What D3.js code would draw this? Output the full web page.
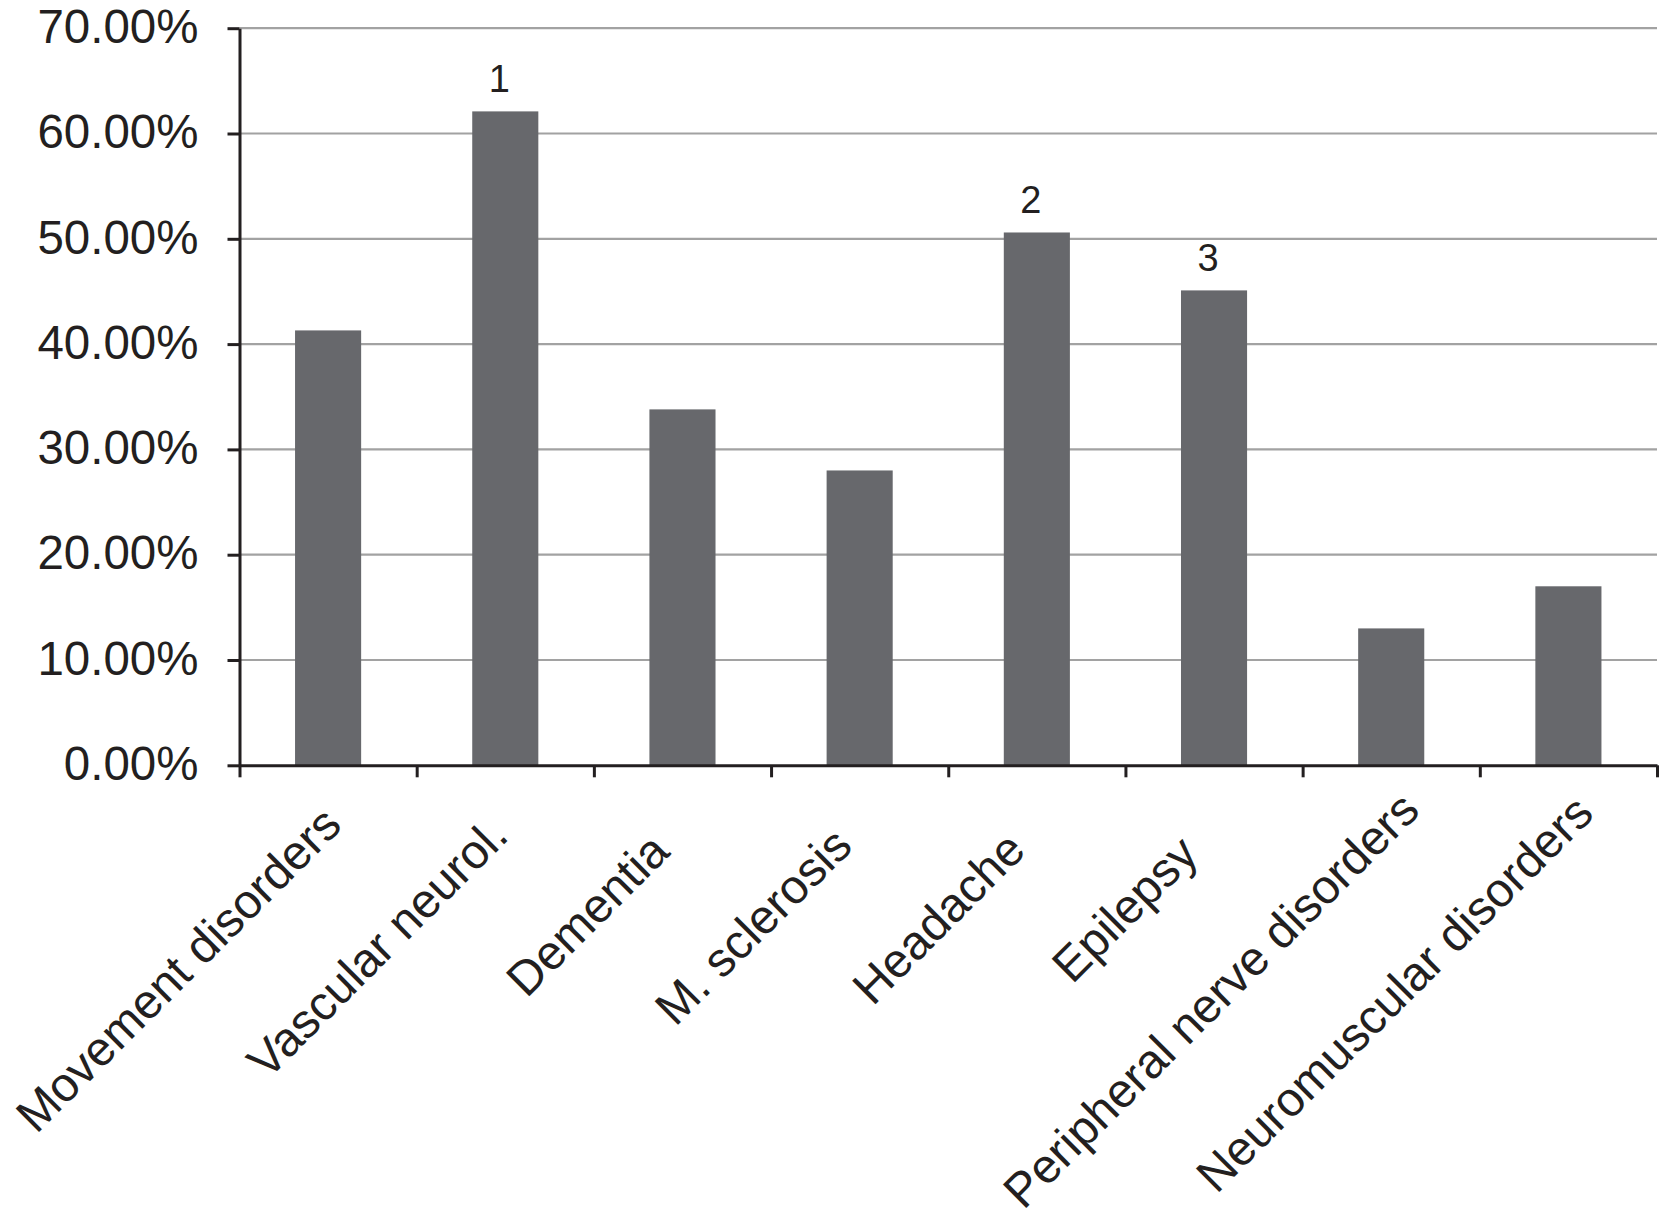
<!DOCTYPE html>
<html>
<head>
<meta charset="utf-8">
<script src="https://cdnjs.cloudflare.com/ajax/libs/d3/7.8.5/d3.min.js"></script>
<style>
  body { margin: 0; background: #fff; }
  text { font-family: "Liberation Sans", Arial, Helvetica, sans-serif; fill: #231f20; }
</style>
</head>
<body>
<div id="chart"></div>
<script>
// chart data
var categories = ["Movement disorders", "Vascular neurol.", "Dementia", "M. sclerosis",
    "Headache", "Epilepsy", "Peripheral nerve disorders", "Neuromuscular disorders"];
var shares = [0.413, 0.621, 0.338, 0.280, 0.506, 0.451, 0.130, 0.170];
var ranks = ["", "1", "", "", "2", "3", "", ""];
var yTicks = [0, 0.1, 0.2, 0.3, 0.4, 0.5, 0.6, 0.7];

var W = 1659, H = 1223;
var plotLeft = 239.5, plotRight = 1657, plotTop = 28.2, plotBottom = 765.3;

var svg = d3.select("#chart")
    .append("svg")
    .attr("width", W)
    .attr("height", H);

svg.append("rect").attr("width", W).attr("height", H).attr("fill", "#fff");

var y = d3.scaleLinear()
    .domain([0, 0.7])
    .range([plotBottom, plotTop]);

var x = d3.scaleBand()
    .domain(categories)
    .range([plotLeft, plotRight])
    .paddingInner(0.627)
    .paddingOuter(0.3135);

// tick marks sit between the categories
var xEdges = d3.scaleLinear()
    .domain([0, categories.length])
    .range([plotLeft, plotRight]);

// gridlines
svg.append("g")
    .selectAll("line")
    .data(yTicks.slice(1))
    .enter()
    .append("line")
    .attr("x1", plotLeft)
    .attr("x2", plotRight)
    .attr("y1", function (d) { return y(d); })
    .attr("y2", function (d) { return y(d); })
    .attr("stroke", "#a2a2a2")
    .attr("stroke-width", 2.2);

// bars
svg.append("g")
    .selectAll("rect")
    .data(shares)
    .enter()
    .append("rect")
    .attr("x", function (d, i) { return x(categories[i]); })
    .attr("width", x.bandwidth())
    .attr("y", function (d) { return y(d); })
    .attr("height", function (d) { return y(0) - y(d); })
    .attr("fill", "#67686c");

// rank numbers over the top three
svg.append("g")
    .selectAll("text")
    .data(shares)
    .enter()
    .append("text")
    .attr("x", function (d, i) { return x(categories[i]) + x.bandwidth() / 2 - 6; })
    .attr("y", function (d) { return y(d) - 19; })
    .attr("text-anchor", "middle")
    .style("font-size", "38px")
    .text(function (d, i) { return ranks[i]; });

// Y axis
var yAxis = svg.append("g")
    .attr("transform", "translate(" + plotLeft + ",0)")
    .call(d3.axisLeft(y)
        .tickValues(yTicks)
        .tickFormat(d3.format(".2%"))
        .tickSize(12)
        .tickSizeOuter(0)
        .tickPadding(29));
yAxis.select(".domain").attr("stroke", "#231f20").attr("stroke-width", 3);
yAxis.selectAll(".tick line").attr("stroke", "#231f20").attr("stroke-width", 3);
yAxis.selectAll(".tick text")
    .style("font-size", "47.5px")
    .attr("font-family", null)
    .attr("fill", "#231f20")
    .attr("dy", "0.3em");

// X axis
var xAxis = svg.append("g")
    .attr("transform", "translate(0," + plotBottom + ")")
    .call(d3.axisBottom(xEdges)
        .tickValues(d3.range(categories.length + 1))
        .tickFormat("")
        .tickSize(12)
        .tickSizeOuter(0));
xAxis.select(".domain").attr("stroke", "#231f20").attr("stroke-width", 3);
xAxis.selectAll(".tick line").attr("stroke", "#231f20").attr("stroke-width", 3);

// category labels, rotated
svg.append("g")
    .selectAll("text")
    .data(categories)
    .enter()
    .append("text")
    .attr("text-anchor", "end")
    .style("font-size", "48px")
    .attr("transform", function (d) {
        return "translate(" + (x(d) + x.bandwidth() / 2 - 34.5) + ",877.5)rotate(-45)";
    })
    .text(function (d) { return d; })
    .attr("dx", function () { return 0.163 * this.getComputedTextLength(); });
</script>
</body>
</html>
